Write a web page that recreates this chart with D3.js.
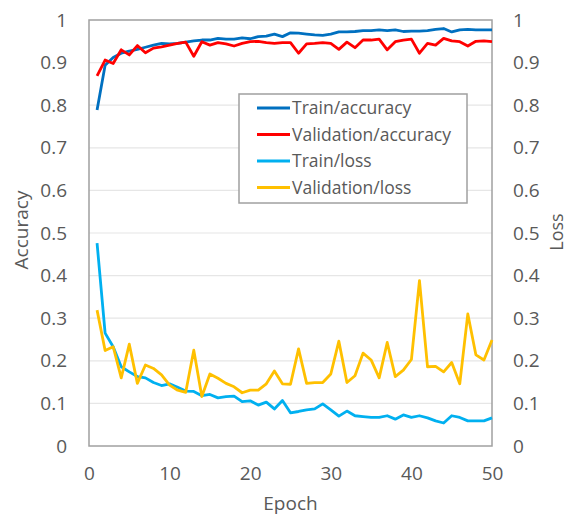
<!DOCTYPE html>
<html>
<head>
<meta charset="utf-8">
<script src="https://cdn.jsdelivr.net/npm/d3@7"></script>
<style>
  body { margin: 0; background: #fff; }
  text { font-family: "Open Sans", sans-serif; fill: #595959; }
</style>
</head>
<body>
<div id="chart"></div>
<script>
// values, epochs 1..50
const epochs = d3.range(1, 51);
const trainAcc = [0.789, 0.894, 0.912, 0.922, 0.927, 0.931, 0.936, 0.941, 0.945, 0.944,
    0.945, 0.948, 0.951, 0.953, 0.953, 0.957, 0.955, 0.955, 0.958, 0.956,
    0.961, 0.962, 0.967, 0.961, 0.970, 0.969, 0.967, 0.965, 0.964, 0.967,
    0.972, 0.972, 0.973, 0.975, 0.975, 0.977, 0.975, 0.977, 0.973, 0.974,
    0.974, 0.975, 0.978, 0.980, 0.972, 0.977, 0.978, 0.977, 0.977, 0.977];
const valAcc = [0.869, 0.906, 0.898, 0.930, 0.918, 0.940, 0.923, 0.934, 0.937, 0.941,
    0.945, 0.948, 0.915, 0.949, 0.941, 0.947, 0.944, 0.939, 0.945, 0.949,
    0.950, 0.947, 0.945, 0.947, 0.947, 0.922, 0.944, 0.945, 0.947, 0.945,
    0.931, 0.948, 0.935, 0.953, 0.953, 0.955, 0.930, 0.949, 0.953, 0.955,
    0.922, 0.945, 0.941, 0.957, 0.951, 0.949, 0.939, 0.950, 0.951, 0.949];
const trainLoss = [0.476, 0.265, 0.233, 0.186, 0.174, 0.163, 0.160, 0.149, 0.142, 0.146,
    0.138, 0.129, 0.128, 0.118, 0.121, 0.113, 0.116, 0.117, 0.104, 0.106,
    0.096, 0.103, 0.087, 0.107, 0.078, 0.081, 0.085, 0.087, 0.099, 0.085,
    0.070, 0.082, 0.071, 0.069, 0.067, 0.067, 0.071, 0.063, 0.073, 0.067,
    0.071, 0.066, 0.059, 0.054, 0.071, 0.067, 0.059, 0.059, 0.059, 0.066];
const valLoss = [0.319, 0.224, 0.233, 0.160, 0.239, 0.147, 0.190, 0.182, 0.167, 0.143,
    0.131, 0.126, 0.225, 0.116, 0.169, 0.159, 0.147, 0.139, 0.125, 0.131,
    0.131, 0.146, 0.176, 0.146, 0.145, 0.228, 0.147, 0.149, 0.149, 0.169,
    0.246, 0.149, 0.165, 0.218, 0.202, 0.160, 0.243, 0.163, 0.178, 0.203,
    0.388, 0.186, 0.187, 0.174, 0.196, 0.146, 0.310, 0.214, 0.202, 0.249];

const seriesNames = ["Train/accuracy", "Validation/accuracy", "Train/loss", "Validation/loss"];
const seriesColors = ["#0070C0", "#FF0000", "#00B0F0", "#FFC000"];
const seriesValues = [trainAcc, valAcc, trainLoss, valLoss];

const xTicks = [0, 10, 20, 30, 40, 50];
const yTicks = d3.range(0, 11).map(d => d / 10);

function main() {
    const width = 569, height = 515;
    const margin = {top: 20, right: 77, bottom: 69, left: 89};
    const innerW = width - margin.left - margin.right;
    const innerH = height - margin.top - margin.bottom;

    const svg = d3.select("#chart")
        .append("svg")
        .attr("width", width)
        .attr("height", height);

    const g = svg.append("g")
        .attr("transform", `translate(${margin.left}, ${margin.top})`);

    const xScale = d3.scaleLinear().domain([0, 50]).range([0, innerW]);
    const yScale = d3.scaleLinear().domain([0, 1]).range([innerH, 0]);

    // gridlines
    g.selectAll(".grid")
        .data(yTicks.filter(d => d > 0 && d < 1))
        .enter()
        .append("line")
        .attr("x1", 0).attr("x2", innerW)
        .attr("y1", d => yScale(d)).attr("y2", d => yScale(d))
        .style("stroke", "#e6e6e6")
        .style("stroke-width", 1.2);

    // left axis
    const left = g.append("g")
        .call(d3.axisLeft(yScale).tickValues(yTicks).tickSize(0).tickPadding(22).tickFormat(d3.format("")));
    left.select(".domain").remove();
    left.selectAll("text").style("font-size", "19px");

    // right axis
    const right = g.append("g")
        .attr("transform", `translate(${innerW}, 0)`)
        .call(d3.axisRight(yScale).tickValues(yTicks).tickSize(0).tickPadding(21).tickFormat(d3.format("")));
    right.select(".domain").remove();
    right.selectAll("text").style("font-size", "19px");

    // bottom axis
    const bottom = g.append("g")
        .attr("transform", `translate(0, ${innerH})`)
        .call(d3.axisBottom(xScale).tickValues(xTicks).tickSize(0).tickPadding(21));
    bottom.select(".domain").remove();
    bottom.selectAll("text").style("font-size", "19px");

    // plot frame
    g.append("rect")
        .attr("width", innerW)
        .attr("height", innerH)
        .style("fill", "none")
        .style("stroke", "#a0a0a0")
        .style("stroke-width", 1.5);

    // lines
    const line = d3.line()
        .x((d, i) => xScale(epochs[i]))
        .y(d => yScale(d));

    seriesValues.forEach(function(vals, k) {
        g.append("path")
            .datum(vals)
            .attr("d", line)
            .style("fill", "none")
            .style("stroke", seriesColors[k])
            .style("stroke-width", 2.8)
            .style("stroke-linejoin", "round");
    });

    // axis titles
    svg.append("text")
        .attr("transform", "translate(28, 230) rotate(-90)")
        .attr("text-anchor", "middle")
        .style("font-size", "19px")
        .text("Accuracy");
    svg.append("text")
        .attr("transform", "translate(563, 232) rotate(-90)")
        .attr("text-anchor", "middle")
        .style("font-size", "18px")
        .text("Loss");
    svg.append("text")
        .attr("x", margin.left + innerW / 2)
        .attr("y", 510)
        .attr("text-anchor", "middle")
        .style("font-size", "19px")
        .text("Epoch");

    // legend
    const legend = svg.append("g").attr("transform", "translate(239, 94)");
    legend.append("rect")
        .attr("width", 228).attr("height", 109)
        .style("fill", "#fff")
        .style("stroke", "#a0a0a0")
        .style("stroke-width", 1.5);
    seriesNames.forEach(function(name, k) {
        const y = 14 + k * 26.5;
        legend.append("line")
            .attr("x1", 18).attr("x2", 51)
            .attr("y1", y).attr("y2", y)
            .style("stroke", seriesColors[k])
            .style("stroke-width", 2.8);
        legend.append("text")
            .attr("x", 53).attr("y", y)
            .attr("dy", "0.35em")
            .style("font-size", "17.5px")
            .text(name);
    });
}

main();
</script>
</body>
</html>
